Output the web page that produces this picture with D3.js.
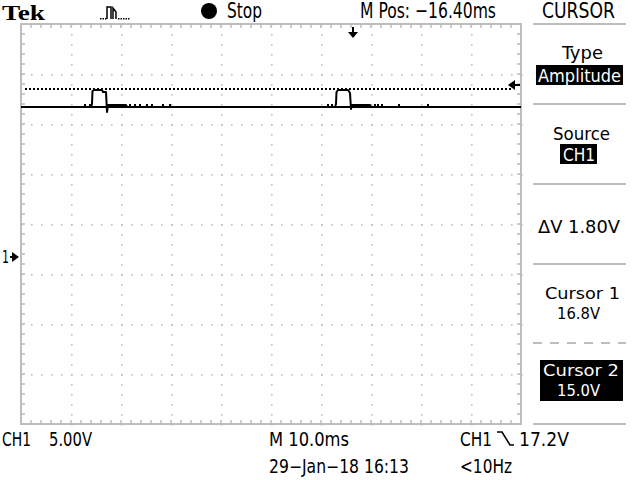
<!DOCTYPE html>
<html><head><meta charset="utf-8">
<script src="https://cdn.jsdelivr.net/npm/d3@7/dist/d3.min.js"></script>
<style>html,body{margin:0;padding:0;background:#fff;}svg{display:block;}</style>
</head><body>
<script>
// ---- data ----
const timeWindowMs = [-66.4, 33.6];          // 10 div x 10.0 ms, M Pos -16.40 ms
const voltWindow = [-16.7, 23.3];            // 8 div x 5.00 V, ground marker at 0 V
const traceTimes = [-66.4, -52.4, -52.2, -52.1, -51.8, -50.2, -50.0, -49.4, -49.2, -49.0, -45.4, -45.2,
                    -3.6, -3.4, -3.3, -3.0, -1.0, -0.6, -0.4, -0.2, 3.4, 3.6, 33.6];
const traceVolts = [15.0, 15.0, 15.3, 16.6, 16.7, 16.7, 16.5, 16.5, 14.5, 15.2, 15.2, 15.0,
                    15.0, 15.3, 16.5, 16.7, 16.7, 16.4, 14.8, 15.2, 15.2, 15.0, 15.0];
const blipTimes = [-53.6, -52.6, -44.6, -43.6, -42.6, -41.2, -40.2, -38.0, -36.6, -5.0, -4.2, 4.4, 5.0, 5.8, 9.2, 15.0];
const blipVolts = [15.3, 15.3, 15.3, 15.3, 15.3, 15.3, 15.3, 15.3, 15.3, 15.3, 15.3, 15.3, 15.3, 15.3, 15.3, 15.3];
const cursorVolts = [16.8, 15.0];            // Cursor 1 (dotted), Cursor 2 (solid, selected)
const triggerLevelV = 17.2;
const triggerTimeMs = 0;
const groundV = 0;
const menuTitles = ["Type", "Source", "", "Cursor 1", "Cursor 2"];
const menuValues = ["Amplitude", "CH1", "ΔV 1.80V", "16.8V", "15.0V"];

// ---- layout ----
const W = 640, H = 480;
const gx0 = 21, gx1 = 521, gy0 = 24, gy1 = 424;
const svg = d3.select("body").append("svg").attr("width", W).attr("height", H);
const x = d3.scaleLinear().domain(timeWindowMs).range([gx0, gx1]);
const y = d3.scaleLinear().domain(voltWindow).range([gy1, gy0]);
const FONT = "'Liberation Sans Narrow','DejaVu Sans Condensed','DejaVu Sans',Arial,sans-serif";
const GRID = "#bdbdbd";

function txt(s, x0, x1, base, size, opts = {}) {
  const t = svg.append("text").attr("x", x0).attr("y", base).text(s)
    .attr("font-family", opts.family || FONT).attr("font-size", size)
    .attr("fill", opts.fill || "#000").attr("font-weight", opts.weight || "normal")
    .attr("textLength", x1 - x0).attr("lengthAdjust", "spacingAndGlyphs");
  return t;
}

// ---- graticule ----
const g = svg.append("g");
const minorX = d3.range(0, 51).map(i => timeWindowMs[0] + i * 2);
const minorY = d3.range(0, 41).map(i => voltWindow[0] + i * 1);
const divX = d3.range(1, 10).map(i => timeWindowMs[0] + i * 10);
const divY = d3.range(1, 8).map(i => voltWindow[0] + i * 5);
divX.forEach(t => minorY.forEach(v => {
  g.append("rect").attr("x", Math.round(x(t))).attr("y", Math.round(y(v))).attr("width", 1.6).attr("height", 1.6).attr("fill", GRID);
}));
divY.forEach(v => minorX.forEach(t => {
  g.append("rect").attr("x", Math.round(x(t))).attr("y", Math.round(y(v))).attr("width", 1.6).attr("height", 1.6).attr("fill", GRID);
}));
g.append("rect").attr("x", gx0).attr("y", gy0).attr("width", gx1 - gx0).attr("height", gy1 - gy0)
  .attr("fill", "none").attr("stroke", GRID).attr("stroke-width", 2);
minorX.slice(1, -1).forEach(t => {
  const xx = Math.round(x(t));
  g.append("line").attr("x1", xx).attr("x2", xx).attr("y1", gy0).attr("y2", gy0 + 4).attr("stroke", GRID).attr("stroke-width", 1.6);
  g.append("line").attr("x1", xx).attr("x2", xx).attr("y1", gy1).attr("y2", gy1 - 4).attr("stroke", GRID).attr("stroke-width", 1.6);
});
minorY.slice(1, -1).forEach(v => {
  const yy = Math.round(y(v));
  g.append("line").attr("y1", yy).attr("y2", yy).attr("x1", gx0).attr("x2", gx0 + 4).attr("stroke", GRID).attr("stroke-width", 1.6);
  g.append("line").attr("y1", yy).attr("y2", yy).attr("x1", gx1).attr("x2", gx1 - 4).attr("stroke", GRID).attr("stroke-width", 1.6);
});

// ---- cursors ----
svg.append("line").attr("x1", gx0 + 4).attr("x2", gx1 - 10).attr("y1", y(cursorVolts[0])).attr("y2", y(cursorVolts[0]))
  .attr("stroke", "#000").attr("stroke-width", 2).attr("stroke-dasharray", "2,2");
svg.append("line").attr("x1", gx0).attr("x2", gx1).attr("y1", y(cursorVolts[1])).attr("y2", y(cursorVolts[1]))
  .attr("stroke", "#000").attr("stroke-width", 2);

// ---- trace ----
const pts = traceTimes.map((t, i) => [t, traceVolts[i]]);
svg.append("path").attr("d", d3.line().x(d => x(d[0])).y(d => y(d[1]))(pts))
  .attr("fill", "none").attr("stroke", "#000").attr("stroke-width", 2).attr("stroke-linejoin", "round");
blipTimes.forEach((t, i) => {
  svg.append("rect").attr("x", x(t) - 1).attr("y", y(blipVolts[i])).attr("width", 2).attr("height", y(cursorVolts[1]) - y(blipVolts[i]))
    .attr("fill", "#000");
});

// ---- markers ----
const tx = x(triggerTimeMs);
svg.append("line").attr("x1", tx).attr("x2", tx).attr("y1", 27).attr("y2", 34).attr("stroke", "#000").attr("stroke-width", 2);
svg.append("path").attr("d", `M${tx - 5},32 L${tx + 5},32 L${tx},38 Z`).attr("fill", "#000");
const ty = y(triggerLevelV);
svg.append("path").attr("d", `M${gx1 - 13},${ty} L${gx1 - 6},${ty - 5} L${gx1 - 6},${ty + 5} Z`).attr("fill", "#000");
svg.append("line").attr("x1", gx1 - 7).attr("x2", gx1 - 1).attr("y1", ty).attr("y2", ty).attr("stroke", "#000").attr("stroke-width", 2);
const gy = y(groundV);
txt("1", 2, 9, gy + 6, 18);
svg.append("path").attr("d", `M${19},${gy} L${12},${gy - 5} L${12},${gy + 5} Z`).attr("fill", "#000");
svg.append("line").attr("x1", 10).attr("x2", 14).attr("y1", gy).attr("y2", gy).attr("stroke", "#000").attr("stroke-width", 2);

// ---- header ----
txt("Tek", 2, 45, 20, 22, { family: "'Liberation Serif','DejaVu Serif',serif", weight: "bold" });
svg.append("path").attr("d", "M107,19 V7 H111 V19 M113,19 V8 L116,12 V19").attr("fill", "none").attr("stroke", "#000").attr("stroke-width", 1.5);
[100, 102.5, 105, 118, 120.5, 123, 125.5, 128].forEach(xx => svg.append("rect").attr("x", xx).attr("y", 18).attr("width", 1.5).attr("height", 1.5).attr("fill", "#000"));
svg.append("circle").attr("cx", 209).attr("cy", 11).attr("r", 8).attr("fill", "#000");
txt("Stop", 227, 262, 18, 21);
txt("M Pos: −16.40ms", 360, 496, 18, 21);
txt("CURSOR", 542, 615, 18, 21);

// ---- right menu ----
[24, 104, 184, 264, 424].forEach(yy => svg.append("line").attr("x1", 533).attr("x2", 626).attr("y1", yy).attr("y2", yy).attr("stroke", GRID).attr("stroke-width", 2));
svg.append("line").attr("x1", 533).attr("x2", 626).attr("y1", 343).attr("y2", 343).attr("stroke", GRID).attr("stroke-width", 2).attr("stroke-dasharray", "9,8");
txt(menuTitles[0], 562, 603, 59, 18);
svg.append("rect").attr("x", 536).attr("y", 65).attr("width", 87).attr("height", 20).attr("fill", "#000");
txt(menuValues[0], 538, 621, 82, 18, { fill: "#fff" });
txt(menuTitles[1], 553, 610, 140, 18);
svg.append("rect").attr("x", 560).attr("y", 144).attr("width", 37).attr("height", 20).attr("fill", "#000");
txt(menuValues[1], 563, 595, 161, 18, { fill: "#fff" });
txt(menuValues[2], 538, 620, 233, 18);
txt(menuTitles[3], 545, 620, 299, 16);
txt(menuValues[3], 557, 600, 318.5, 16);
svg.append("rect").attr("x", 540).attr("y", 360).attr("width", 83).attr("height", 41).attr("fill", "#000");
txt(menuTitles[4], 543, 619, 376, 16, { fill: "#fff" });
txt(menuValues[4], 557, 600, 395.5, 16, { fill: "#fff" });

// ---- bottom readouts ----
txt("CH1", 2, 31, 446, 19);
txt("5.00V", 49, 92, 446, 19);
txt("M 10.0ms", 269, 349, 446, 19);
txt("CH1", 460, 492, 446, 19);
svg.append("path").attr("d", "M497,432 L502,432 L510,445 L514,445").attr("fill", "none").attr("stroke", "#000").attr("stroke-width", 1.6);
txt("17.2V", 519, 569, 446, 19);
txt("29−Jan−18 16:13", 269, 409, 473, 19);
txt("<10Hz", 460, 512, 473, 19);
</script>
</body></html>
